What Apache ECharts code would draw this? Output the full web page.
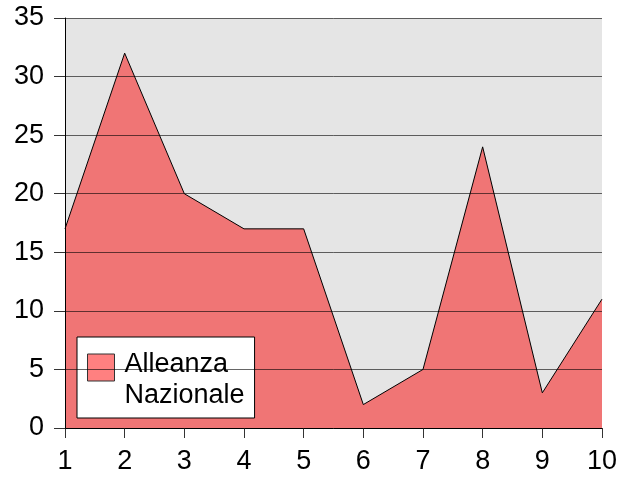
<!DOCTYPE html>
<html><head><meta charset="utf-8">
<script src="https://cdn.jsdelivr.net/npm/echarts@6/dist/echarts.min.js"></script>
<style>html,body{margin:0;padding:0;background:#fff}#c{width:620px;height:479px}</style>
</head><body><div id="c"></div>
<script>
var categories = ['1','2','3','4','5','6','7','8','9','10'];
var seriesName = 'Alleanza Nazionale';
var values = [17, 32, 20, 17, 17, 2, 5, 24, 3, 11];
var chart = echarts.init(document.getElementById('c'), null, {renderer:'canvas'});
var font = '"Liberation Sans", Arial, sans-serif';
chart.setOption({
  animation:false,
  backgroundColor:'#fff',
  grid:{left:65,right:17,top:18,bottom:51,show:true,backgroundColor:'#e5e5e5',borderWidth:0},
  legend:{
    show:true, left:77, top:337, orient:'vertical',
    backgroundColor:'#fff', borderColor:'#000', borderWidth:1,
    padding:[12,10,7,10],
    itemWidth:27, itemHeight:52, itemGap:0,
    formatter:function(){return 'Alleanza\nNazionale';},
    textStyle:{fontFamily:font,fontSize:27,color:'#000',lineHeight:31,padding:[0,0,0,5]},
    data:[{name:seriesName,icon:'path://M0,0H27V27H0Z M0,52 M27,52',itemStyle:{color:'#ff8080',borderColor:'#333',borderWidth:1}}]
  },
  xAxis:{
    type:'category', data:categories, boundaryGap:false,
    axisLine:{lineStyle:{color:'#000',width:1}},
    axisTick:{show:true,alignWithLabel:true,length:10,lineStyle:{color:'#333'}},
    axisLabel:{fontFamily:font,fontSize:27,color:'#000',margin:20},
    splitLine:{show:false}
  },
  yAxis:{
    type:'value', min:0, max:35, interval:5, z:5,
    axisLine:{show:true,lineStyle:{color:'#000',width:1}},
    axisTick:{show:true,length:11,lineStyle:{color:'#333'}},
    axisLabel:{fontFamily:font,fontSize:27,color:'#000',margin:21},
    splitLine:{show:true,lineStyle:{color:'rgba(0,0,0,0.6)',width:1}}
  },
  series:[{
    name:seriesName, type:'line', data:values, symbol:'none', z:2,
    lineStyle:{color:'#000',width:1},
    itemStyle:{color:'#ff8080'},
    areaStyle:{color:'#f07575',opacity:1}
  }]
});
</script></body></html>
